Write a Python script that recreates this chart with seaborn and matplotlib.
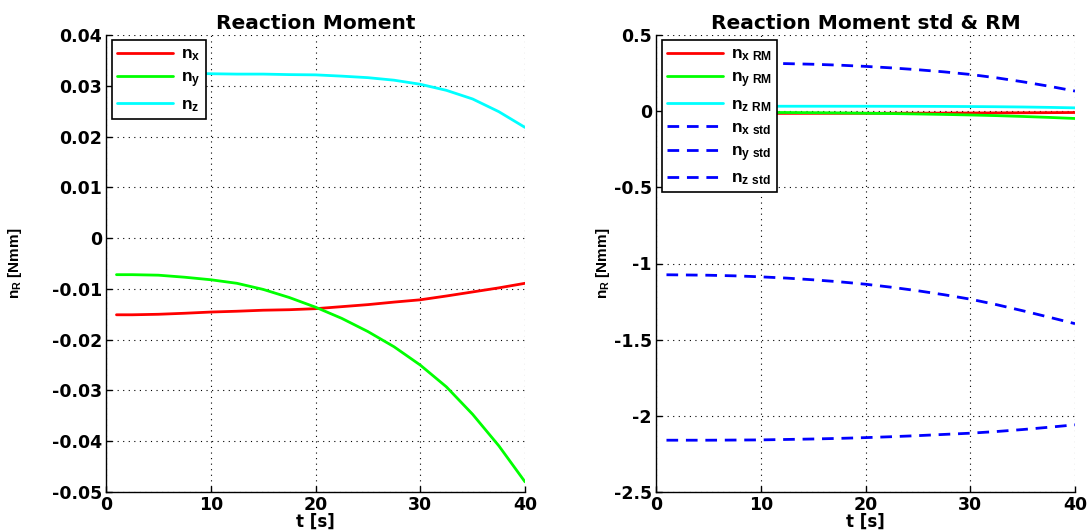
import matplotlib
matplotlib.use("Agg")
import matplotlib.pyplot as plt
from matplotlib.ticker import MultipleLocator, FuncFormatter
import seaborn as sns
import pandas as pd

# time samples [s]
t = [1, 2.5, 5, 7.5, 10, 12.5, 15, 17.5, 20, 22.5, 25, 27.5, 30, 32.5, 35, 37.5, 40]

# reaction moment components [Nmm]
n_x = [-0.0151, -0.0151, -0.0150, -0.0148, -0.01456, -0.0144, -0.0142, -0.0141, -0.0139,
       -0.0135, -0.0131, -0.0126, -0.01215, -0.0114, -0.0106, -0.0098, -0.0089]
n_y = [-0.0072, -0.0072, -0.0073, -0.0077, -0.0082, -0.0089, -0.0101, -0.0117, -0.0136,
       -0.0158, -0.0184, -0.0214, -0.0250, -0.0293, -0.0347, -0.0409, -0.0480]
n_z = [0.0326, 0.0326, 0.0326, 0.03245, 0.03237, 0.0323, 0.0323, 0.0322, 0.03215,
       0.0319, 0.0316, 0.0311, 0.0303, 0.0291, 0.0274, 0.0249, 0.0218]

# standard-deviation curves [Nmm]
n_x_std = [0.318, 0.318, 0.318, 0.317, 0.315, 0.312, 0.308, 0.302, 0.294,
           0.284, 0.272, 0.258, 0.241, 0.219, 0.193, 0.164, 0.132]
n_y_std = [-1.074, -1.075, -1.077, -1.081, -1.0875, -1.096, -1.107, -1.120, -1.136,
           -1.156, -1.179, -1.205, -1.234, -1.270, -1.310, -1.352, -1.395]
n_z_std = [-2.160, -2.160, -2.160, -2.159, -2.158, -2.155, -2.152, -2.148, -2.143,
           -2.137, -2.130, -2.122, -2.114, -2.103, -2.090, -2.075, -2.059]

sns.set_style("white")
plt.rcParams.update({
    "font.family": ["DejaVu Sans"],
    "font.weight": "bold",
    "text.color": "black",
    "axes.labelcolor": "black",
    "axes.titlecolor": "black",
    "axes.unicode_minus": False,
    "mathtext.fontset": "custom",
    "mathtext.rm": "Liberation Sans:bold",
    "mathtext.bf": "Liberation Sans:bold",
    "mathtext.it": "Liberation Sans:bold",
})

RED, GREEN, CYAN, BLUE = (1, 0, 0), (0, 1, 0), (0, 1, 1), (0, 0, 1)
LW = 2.0

df = pd.DataFrame({"t": t, "nx": n_x, "ny": n_y, "nz": n_z,
                   "nx_std": n_x_std, "ny_std": n_y_std, "nz_std": n_z_std})

fig = plt.figure(figsize=(10.91, 5.30), dpi=100)
ax1 = fig.add_axes([106 / 1091, 1 - 492 / 530, 419 / 1091, 457 / 530])
ax2 = fig.add_axes([656 / 1091, 1 - 492 / 530, 419 / 1091, 457 / 530])


def tick_fmt(v, _pos):
    if abs(v) < 1e-12:
        return "0"
    return f"{round(v, 10):g}"


def style_axes(ax, ymin, ymax, ystep, title, ylabel_x):
    ax.set_xlim(0, 40)
    ax.set_ylim(ymin, ymax)
    ax.xaxis.set_major_locator(MultipleLocator(10))
    ax.yaxis.set_major_locator(MultipleLocator(ystep))
    ax.yaxis.set_major_formatter(FuncFormatter(tick_fmt))
    ax.xaxis.set_major_formatter(FuncFormatter(tick_fmt))
    ax.grid(True, linestyle=(0, (1, 4)), color="black", linewidth=0.8)
    for s in ("top", "right"):
        ax.spines[s].set_visible(False)
    for s in ("left", "bottom"):
        ax.spines[s].set_color("black")
        ax.spines[s].set_linewidth(1.0)
    ax.tick_params(direction="in", length=4, width=1, labelsize=12.5,
                   colors="black", left=True, bottom=True, pad=3)
    for lab in ax.get_xticklabels() + ax.get_yticklabels():
        lab.set_fontweight("bold")
    ax.set_xlabel("t [s]", fontsize=12, fontweight="bold", labelpad=-1)
    ax.set_ylabel(r"$\mathbf{n}_{\mathbf{R}}$ [Nmm]", fontsize=11,
                  fontweight="bold", family="Liberation Sans")
    ax.yaxis.set_label_coords(ylabel_x, 0.5)
    ax.set_title(title, fontsize=14.5, fontweight="bold", pad=4)


# left panel: reaction moment components
sns.lineplot(data=df, x="t", y="nx", ax=ax1, color=RED, lw=LW, label=r"$\mathbf{n}_{\mathbf{x}}$")
sns.lineplot(data=df, x="t", y="ny", ax=ax1, color=GREEN, lw=LW, label=r"$\mathbf{n}_{\mathbf{y}}$")
sns.lineplot(data=df, x="t", y="nz", ax=ax1, color=CYAN, lw=LW, label=r"$\mathbf{n}_{\mathbf{z}}$")
style_axes(ax1, -0.05, 0.04, 0.01, "Reaction Moment", -0.195)

# right panel: components together with their std curves
sns.lineplot(data=df, x="t", y="nx", ax=ax2, color=RED, lw=LW, label=r"$\mathbf{n}_{\mathbf{x\ RM}}$")
sns.lineplot(data=df, x="t", y="ny", ax=ax2, color=GREEN, lw=LW, label=r"$\mathbf{n}_{\mathbf{y\ RM}}$")
sns.lineplot(data=df, x="t", y="nz", ax=ax2, color=CYAN, lw=LW, label=r"$\mathbf{n}_{\mathbf{z\ RM}}$")
for col, lab in (("nx_std", r"$\mathbf{n}_{\mathbf{x\ std}}$"),
                 ("ny_std", r"$\mathbf{n}_{\mathbf{y\ std}}$"),
                 ("nz_std", r"$\mathbf{n}_{\mathbf{z\ std}}$")):
    sns.lineplot(data=df, x="t", y=col, ax=ax2, color=BLUE, lw=LW,
                 linestyle=(0, (4.2, 2.8)), label=lab)
style_axes(ax2, -2.5, 0.5, 0.5, "Reaction Moment std & RM", -0.105)

for ax in (ax1, ax2):
    leg = ax.legend(loc="upper left", bbox_to_anchor=(0.015, 0.99),
                    fancybox=False, framealpha=1, edgecolor="black",
                    fontsize=12.5, handlelength=3.2, handletextpad=0.45,
                    labelspacing=0.28, borderpad=0.3, borderaxespad=0.0)
    leg.get_frame().set_linewidth(1.2)

fig.savefig("out.png", dpi=100)
